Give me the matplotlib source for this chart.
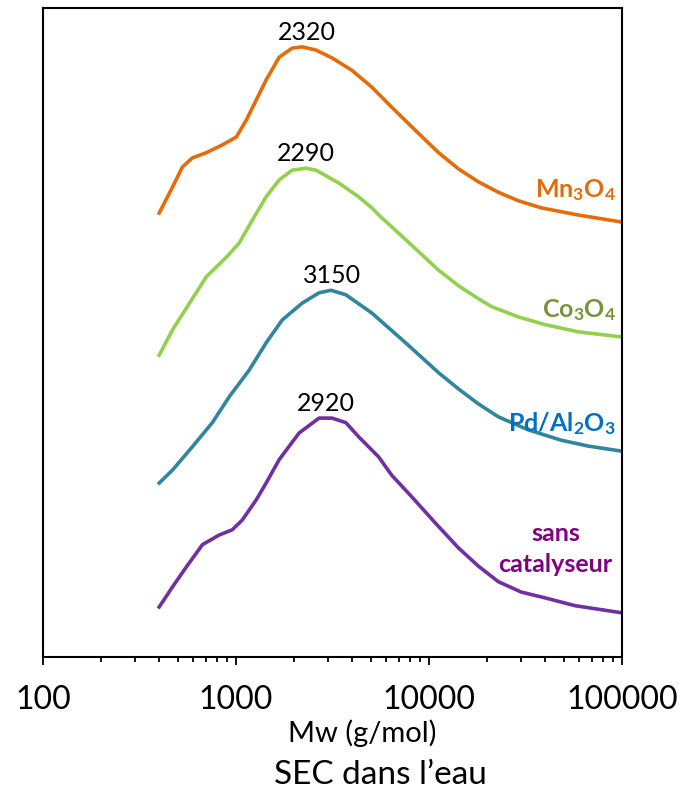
import matplotlib
matplotlib.use("Agg")
from matplotlib import pyplot as plt
from matplotlib.ticker import LogLocator, NullFormatter, FixedLocator, FixedFormatter

# Mw (g/mol) et intensite relative (unites arbitraires, courbes decalees)
mw_mn = [400, 469, 528, 595, 703, 850, 1004, 1130, 1273, 1433, 1674, 1954, 2199,
         2600, 3144, 3983, 5056, 6412, 8130, 11210, 14220, 18030, 22870, 29000,
         38130, 59200, 100000]
i_mn = [68.4, 72.4, 75.5, 76.9, 77.7, 78.9, 80.1, 82.7, 85.8, 88.9, 92.4, 93.8, 94.0,
        93.5, 92.3, 90.4, 87.8, 84.7, 81.7, 77.7, 75.2, 73.2, 71.6, 70.3,
        69.2, 68.1, 67.0]

mw_co = [400, 469, 574, 703, 892, 1040, 1243, 1433, 1674, 1954, 2300, 2600, 3420,
         4320, 5056, 5494, 7570, 11210, 14220, 18030, 21050, 29000, 40000, 59200,
         100000]
i_co = [46.5, 50.4, 54.5, 58.6, 61.6, 63.8, 67.8, 70.9, 73.5, 75.0, 75.3, 75.0, 73.0,
        70.9, 69.2, 68.1, 64.3, 59.6, 57.2, 55.2, 54.0, 52.4, 51.2, 50.1,
        49.3]

mw_pd = [400, 469, 595, 754, 923, 1171, 1433, 1734, 2199, 2692, 3104, 3710, 5056,
         7570, 11210, 14220, 18030, 22870, 32660, 48380, 66680, 100000]
i_pd = [26.8, 28.8, 32.4, 36.1, 40.1, 44.2, 48.4, 51.9, 54.5, 56.1, 56.5, 55.8, 53.0,
        48.4, 43.8, 41.3, 39.0, 37.0, 35.0, 33.4, 32.5, 31.7]

mw_sc = [400, 469, 554, 670, 820, 957, 1078, 1273, 1433, 1674, 2122, 2692, 3144,
         3710, 4331, 5494, 6412, 8130, 10820, 14220, 18030, 22870, 30060, 40020,
         57150, 81660, 100000]
i_sc = [7.7, 10.8, 13.9, 17.3, 18.8, 19.6, 21.1, 24.2, 26.8, 30.4, 34.5, 36.8, 36.8,
        36.1, 33.9, 30.8, 28.0, 24.7, 20.6, 16.8, 14.0, 11.6, 10.0, 9.1,
        7.9, 7.2, 6.8]

pics = ["2320", "2290", "3150", "2920"]

plt.rcParams['font.family'] = ['Lato', 'DejaVu Sans']
plt.rcParams['mathtext.default'] = 'regular'

fig = plt.figure(figsize=(6.88, 7.92), dpi=100)
ax = fig.add_axes([0.0625, 0.1705, 0.8415, 0.8195])

ax.plot(mw_mn, i_mn, color='#E46C0A', lw=2.6)
ax.plot(mw_co, i_co, color='#92D050', lw=2.6)
ax.plot(mw_pd, i_pd, color='#31859C', lw=2.6)
ax.plot(mw_sc, i_sc, color='#7030A0', lw=2.6)

# valeurs au sommet des pics
series = [(mw_mn, i_mn), (mw_co, i_co), (mw_pd, i_pd), (mw_sc, i_sc)]
for (x, y), txt in zip(series, pics):
    k = y.index(max(y))
    ax.text(float(txt), y[k] + 0.5, txt, ha='center', va='bottom', fontsize=18)

# noms des catalyseurs
ax.text(0.99, 0.72, 'Mn$_3$O$_4$', transform=ax.transAxes, ha='right', va='center',
        fontsize=18, fontweight='bold', color='#E46C0A')
ax.text(0.99, 0.535, 'Co$_3$O$_4$', transform=ax.transAxes, ha='right', va='center',
        fontsize=18, fontweight='bold', color='#77933C')
ax.text(0.99, 0.36, 'Pd/Al$_2$O$_3$', transform=ax.transAxes, ha='right', va='center',
        fontsize=18, fontweight='bold', color='#0070C0')
ax.text(0.885, 0.166, 'sans\ncatalyseur', transform=ax.transAxes, ha='center', va='center',
        fontsize=18, fontweight='bold', color='#800080', linespacing=1.45)

ax.set_xscale('log')
ax.set_xlim(100, 100000)
ax.set_ylim(0, 100)
ax.set_yticks([])
ax.xaxis.set_major_locator(FixedLocator([100, 1000, 10000, 100000]))
ax.xaxis.set_major_formatter(FixedFormatter(['100', '1000', '10000', '100000']))
ax.xaxis.set_minor_locator(LogLocator(base=10, subs=range(2, 10)))
ax.xaxis.set_minor_formatter(NullFormatter())
ax.tick_params(axis='x', which='major', direction='out', length=6, width=1.3,
               labelsize=23, pad=14)
ax.tick_params(axis='x', which='minor', direction='out', length=3.5, width=1.3)
for s in ax.spines.values():
    s.set_linewidth(1.5)

fig.text(0.527, 0.074, 'Mw (g/mol)', ha='center', va='center', fontsize=21)
fig.text(0.553, 0.022, 'SEC dans l\u2019eau', ha='center', va='center', fontsize=24)

fig.savefig('out.png', dpi=100)
